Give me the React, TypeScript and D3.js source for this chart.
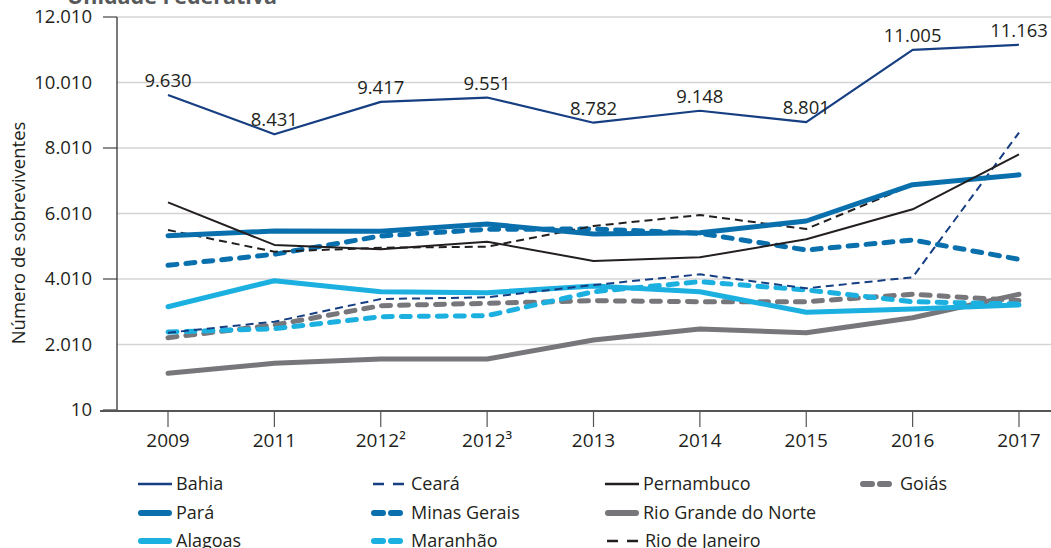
import { useEffect, useRef } from "react";
import * as d3 from "d3";

const years = ["2009", "2011", "2012²", "2012³", "2013", "2014", "2015", "2016", "2017"];
const yTicks = [10, 2010, 4010, 6010, 8010, 10010, 12010];
const yMajorTicks = [10, 4010, 8010, 12010];

const bahia = [9630, 8431, 9417, 9551, 8782, 9148, 8801, 11005, 11163];
const ceara = [2370, 2706, 3399, 3451, 3827, 4153, 3726, 4062, 8480];
const pernambuco = [6350, 5050, 4920, 5150, 4560, 4672, 5222, 6138, 7815];
const goias = [2218, 2605, 3195, 3268, 3347, 3317, 3317, 3543, 3350];
const para = [5332, 5476, 5470, 5690, 5384, 5424, 5781, 6889, 7190];
const minasGerais = [4428, 4764, 5323, 5527, 5537, 5405, 4896, 5201, 4611];
const rioGrandeDoNorte = [1130, 1436, 1567, 1567, 2147, 2483, 2370, 2828, 3543];
const alagoas = [3164, 3958, 3622, 3592, 3796, 3622, 2993, 3094, 3216];
const maranhao = [2392, 2492, 2859, 2889, 3622, 3928, 3674, 3317, 3246];
const rioDeJaneiro = [5506, 4843, 4966, 4997, 5628, 5964, 5537, 6880, 7200];

const NAVY = "#163e82";
const BLACK = "#231f20";
const GRAY = "#77777b";
const BLUE = "#0a70ad";
const LIGHT = "#1bb0e0";

const series = [
  { name: "Bahia", values: bahia, color: NAVY, width: 2.2, dash: null },
  { name: "Ceará", values: ceara, color: NAVY, width: 2, dash: "8,5" },
  { name: "Pernambuco", values: pernambuco, color: BLACK, width: 2, dash: null },
  { name: "Goiás", values: goias, color: GRAY, width: 5, dash: "9,9" },
  { name: "Pará", values: para, color: BLUE, width: 5, dash: null },
  { name: "Minas Gerais", values: minasGerais, color: BLUE, width: 5, dash: "9,9" },
  { name: "Rio Grande do Norte", values: rioGrandeDoNorte, color: GRAY, width: 5, dash: null },
  { name: "Alagoas", values: alagoas, color: LIGHT, width: 5, dash: null },
  { name: "Maranhão", values: maranhao, color: LIGHT, width: 5, dash: "9,9" },
  { name: "Rio de Janeiro", values: rioDeJaneiro, color: BLACK, width: 2, dash: "8,5" },
];

const drawOrder = [
  "Rio Grande do Norte", "Goiás", "Maranhão", "Alagoas", "Ceará",
  "Minas Gerais", "Rio de Janeiro", "Pará", "Pernambuco", "Bahia",
];

const fmt = (v: number) => d3.format(",")(v).replace(/,/g, ".");

const App = () => {
  const svgRef = useRef<SVGSVGElement>(null);

  useEffect(() => {
    const svg = d3.select(svgRef.current);
    svg.selectAll("*").remove();
    const font = "'Open Sans', 'Noto Sans', sans-serif";

    const x = d3.scalePoint().domain(years).range([168, 1019]);
    const y = d3.scaleLinear().domain([10, 12010]).range([410, 17]);

    // title (cut off at the top, as in the source)
    svg
      .append("text")
      .attr("x", 67)
      .attr("y", 4)
      .attr("font-family", font)
      .attr("font-size", 21.5)
      .attr("font-weight", 700)
      .attr("fill", "#58595b")
      .text("Unidade Federativa");

    // grid
    svg
      .selectAll(".grid")
      .data(yTicks.filter((d) => d > 10))
      .enter()
      .append("line")
      .attr("x1", 117)
      .attr("x2", 1051)
      .attr("y1", (d) => y(d))
      .attr("y2", (d) => y(d))
      .attr("stroke", "#d4d4d4")
      .attr("stroke-width", 1.5);

    // y axis
    svg
      .append("line")
      .attr("x1", 117)
      .attr("x2", 117)
      .attr("y1", y(12010))
      .attr("y2", 411)
      .attr("stroke", BLACK)
      .attr("stroke-width", 1.2);

    svg
      .selectAll(".ytick")
      .data(yMajorTicks)
      .enter()
      .append("line")
      .attr("x1", 103)
      .attr("x2", 117)
      .attr("y1", (d) => y(d))
      .attr("y2", (d) => y(d))
      .attr("stroke", "#444")
      .attr("stroke-width", 1.2);

    svg
      .selectAll(".ylabel")
      .data(yTicks)
      .enter()
      .append("text")
      .attr("x", 92)
      .attr("y", (d) => y(d))
      .attr("dy", "0.35em")
      .attr("text-anchor", "end")
      .attr("font-family", font)
      .attr("font-size", 18.5)
      .attr("fill", BLACK)
      .text((d) => fmt(d));

    svg
      .append("text")
      .attr("transform", "translate(25,233) rotate(-90)")
      .attr("text-anchor", "middle")
      .attr("font-family", font)
      .attr("font-size", 18.5)
      .attr("fill", BLACK)
      .text("Número de sobreviventes");

    // x axis
    svg
      .append("line")
      .attr("x1", 100)
      .attr("x2", 1051)
      .attr("y1", 411)
      .attr("y2", 411)
      .attr("stroke", "#555")
      .attr("stroke-width", 1.8);

    svg
      .selectAll(".xtick")
      .data(years)
      .enter()
      .append("line")
      .attr("x1", (d) => x(d)!)
      .attr("x2", (d) => x(d)!)
      .attr("y1", 411)
      .attr("y2", 427)
      .attr("stroke", "#555")
      .attr("stroke-width", 1.2);

    svg
      .selectAll(".xlabel")
      .data(years)
      .enter()
      .append("text")
      .attr("x", (d) => x(d)!)
      .attr("y", 447)
      .attr("text-anchor", "middle")
      .attr("font-family", "'Liberation Sans Narrow', 'Open Sans', sans-serif")
      .attr("font-size", 19)
      .attr("fill", BLACK)
      .text((d) => d);

    // lines
    const line = d3
      .line<number>()
      .x((d, i) => x(years[i])!)
      .y((d) => y(d));

    drawOrder.forEach((name) => {
      const s = series.find((t) => t.name === name)!;
      svg
        .append("path")
        .datum(s.values)
        .attr("d", line)
        .attr("fill", "none")
        .attr("stroke", s.color)
        .attr("stroke-width", s.width)
        .attr("stroke-dasharray", s.dash)
        .attr("stroke-linecap", s.width > 3 ? "round" : "butt")
        .attr("stroke-linejoin", "round");
    });

    // Bahia labels
    svg
      .selectAll(".blabel")
      .data(bahia)
      .enter()
      .append("text")
      .attr("x", (d, i) => x(years[i])!)
      .attr("y", (d) => y(d) - 8)
      .attr("text-anchor", "middle")
      .attr("font-family", font)
      .attr("font-size", 18.5)
      .attr("fill", BLACK)
      .text((d) => fmt(d));

    // legend
    const colX = [138, 371, 605, 860];
    const rowY = [484, 513, 541];
    const legend = svg
      .selectAll(".legend-item")
      .data(series)
      .enter()
      .append("g")
      .attr("transform", (d, i) => {
        const row = i < 4 ? 0 : i < 7 ? 1 : 2;
        const col = i < 4 ? i : i < 7 ? i - 4 : i - 7;
        return `translate(${colX[col]},${rowY[row]})`;
      });

    legend.each(function (d) {
      const g = d3.select(this);
      if (d.dash && d.width > 3) {
        [0, 17].forEach((o) =>
          g
            .append("line")
            .attr("x1", 3 + o)
            .attr("x2", 12 + o)
            .attr("stroke", d.color)
            .attr("stroke-width", 6)
            .attr("stroke-linecap", "round")
        );
      } else if (d.dash) {
        [0, 20].forEach((o) =>
          g
            .append("line")
            .attr("x1", 2 + o)
            .attr("x2", 13 + o)
            .attr("stroke", d.color)
            .attr("stroke-width", 2.5)
        );
      } else {
        g.append("line")
          .attr("x1", d.width > 3 ? 3 : 0)
          .attr("x2", d.width > 3 ? 31 : 34)
          .attr("stroke", d.color)
          .attr("stroke-width", d.width > 3 ? 6 : 2.5)
          .attr("stroke-linecap", d.width > 3 ? "round" : "butt");
      }
      g.append("text")
        .attr("x", d.dash ? 40 : 38)
        .attr("y", 0)
        .attr("dy", "0.36em")
        .attr("font-family", font)
        .attr("font-size", 18)
        .attr("fill", BLACK)
        .text(d.name);
    });
  }, []);

  return (
    <svg
      ref={svgRef}
      width={1051}
      height={548}
      style={{ position: "absolute", left: 0, top: 0, background: "#fff" }}
    ></svg>
  );
};

export default App;
